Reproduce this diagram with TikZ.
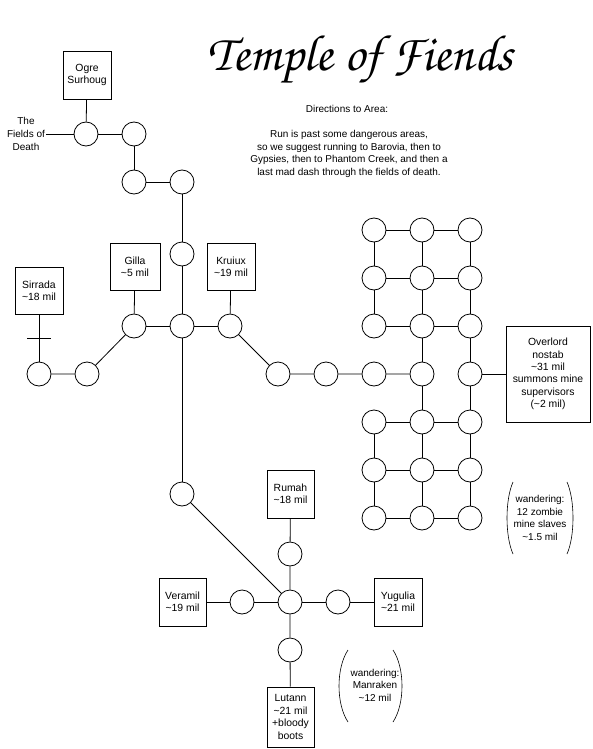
\documentclass[tikz,border=0pt]{standalone}
\usepackage{fontspec}
\setmainfont{Liberation Sans}
\newfontfamily\titlefont{TeX Gyre Chorus}

\begin{document}
\begin{tikzpicture}[x=1pt, y=-1pt, line width=0.8pt,
    room/.style={circle, draw, minimum size=24pt, inner sep=0pt},
    npc/.style={draw, minimum width=48pt, minimum height=48pt, align=center, inner sep=1pt, font=\fontsize{10.4}{12.4}\selectfont},
    note/.style={align=center, inner sep=1pt, font=\fontsize{10}{12.6}\selectfont}]
    \useasboundingbox (0,0) rectangle (592,749);

    % title and directions
    \node[font=\titlefont\fontsize{51}{51}\selectfont, anchor=base] (title) at (360,71) {Temple of Fiends};
    \node[note, anchor=base] (dir) at (347,113) {Directions to Area:};
    \node[note] (route) at (349,154) {Run is past some dangerous areas,\\so we suggest running to Barovia, then to\\Gypsies, then to Phantom Creek, and then a\\last mad dash through the fields of death.};

    % way in from the fields
    \node[npc] (ogre) at (87,75) {Ogre\\Surhoug};
    \node[note] (fields) at (26,134) {The\\Fields of\\Death};
    \node[room] (f1) at (86,134) {};
    \node[room] (f2) at (134,134) {};
    \node[room] (f3) at (134,182) {};
    \node[room] (f4) at (182,182) {};
    \node[room] (f5) at (182,254) {};
    \node[room] (hub) at (182,326) {};
    \node[room] (gi) at (134,326) {};
    \node[room] (kr) at (230,326) {};
    \node[npc, minimum width=50pt, minimum height=47pt] (gilla) at (135,266.5) {Gilla\\\textasciitilde5 mil};
    \node[npc, minimum height=47pt] (kruiux) at (231,266.5) {Kruiux\\\textasciitilde19 mil};
    \node[npc, minimum height=47pt] (sirrada) at (39,290.5) {Sirrada\\\textasciitilde18 mil};
    \node[room] (s1) at (39,374) {};
    \node[room] (s2) at (87,374) {};
    \coordinate (bar) at (39,338);
    \node[room] (p1) at (278,374) {};
    \node[room] (p2) at (326,374) {};

    % mine grid
    \node[room] (m11) at (374,230) {};
    \node[room] (m12) at (422,230) {};
    \node[room] (m13) at (470,230) {};
    \node[room] (m21) at (374,278) {};
    \node[room] (m22) at (422,278) {};
    \node[room] (m23) at (470,278) {};
    \node[room] (m31) at (374,326) {};
    \node[room] (m32) at (422,326) {};
    \node[room] (m33) at (470,326) {};
    \node[room] (m41) at (374,374) {};
    \node[room] (m42) at (422,374) {};
    \node[room] (m43) at (470,374) {};
    \node[room] (m51) at (374,422) {};
    \node[room] (m52) at (422,422) {};
    \node[room] (m53) at (470,422) {};
    \node[room] (m61) at (374,470) {};
    \node[room] (m62) at (422,470) {};
    \node[room] (m63) at (470,470) {};
    \node[room] (m71) at (374,518) {};
    \node[room] (m72) at (422,518) {};
    \node[room] (m73) at (470,518) {};
    \node[npc, minimum width=84pt, minimum height=96pt] (overlord) at (548,374) {Overlord\\nostab\\\textasciitilde31 mil\\summons mine\\supervisors\\(\textasciitilde2 mil)};
    \node[note] (slaves) at (540,518) {wandering:\\12 zombie\\mine slaves\\\textasciitilde1.5 mil};

    % lower crossing
    \node[room] (c7) at (182,494) {};
    \node[room] (cross) at (290,602) {};
    \node[room] (r) at (290,554) {};
    \node[room] (v) at (242,602) {};
    \node[room] (y) at (338,602) {};
    \node[room] (l) at (290,650) {};
    \node[npc, minimum width=47pt] (rumah) at (290.5,494) {Rumah\\\textasciitilde18 mil};
    \node[npc, minimum width=47pt] (veramil) at (182.5,602) {Veramil\\\textasciitilde19 mil};
    \node[npc] (yugulia) at (398,602) {Yugulia\\\textasciitilde21 mil};
    \node[npc, minimum width=47pt, minimum height=60pt] (lutann) at (290.5,717) {Lutann\\\textasciitilde21 mil\\+bloody\\boots};
    \node[note] (manraken) at (375,685) {wandering:\\Manraken\\\textasciitilde12 mil};

    \draw (ogre) -- (f1);
    \draw (fields) -- (f1);
    \draw (f1) -- (f2) -- (f3) -- (f4) -- (f5) -- (hub) -- (c7);
    \draw (gi) -- (hub) -- (kr);
    \draw (gilla) -- (gi);
    \draw (kruiux) -- (kr);
    \draw (sirrada) -- (s1);
    \draw ([xshift=-12pt]bar) -- ([xshift=12pt]bar);
    \draw (s1) -- (s2) -- (gi);
    \draw (kr) -- (p1) -- (p2) -- (m41) -- (m42);
    \draw (m43) -- (overlord);

    \draw (m11) -- (m12) -- (m13);
    \draw (m21) -- (m22) -- (m23);
    \draw (m31) -- (m32) -- (m33);
    \draw (m51) -- (m52) -- (m53);
    \draw (m61) -- (m62) -- (m63);
    \draw (m71) -- (m72) -- (m73);
    \draw (m11) -- (m21) -- (m31);
    \draw (m51) -- (m61) -- (m71);
    \draw (m12) -- (m22) -- (m32) -- (m42) -- (m52) -- (m62) -- (m72);
    \draw (m13) -- (m23) -- (m33) -- (m43) -- (m53) -- (m63) -- (m73);

    \draw (c7) -- (cross);
    \draw (rumah) -- (r) -- (cross);
    \draw (veramil) -- (v) -- (cross);
    \draw (cross) -- (y) -- (yugulia);
    \draw (cross) -- (l) -- (lutann);

    % brackets round the wandering monsters
    \draw[line width=0.6pt] (513,482) .. controls (505,500) and (505,536) .. (513,554);
    \draw[line width=0.6pt] (567,482) .. controls (575,500) and (575,536) .. (567,554);
    \draw[line width=0.6pt] (348,650) .. controls (336,668) and (336,704) .. (348,722);
    \draw[line width=0.6pt] (393,650) .. controls (405,668) and (405,704) .. (393,722);
\end{tikzpicture}
\end{document}
